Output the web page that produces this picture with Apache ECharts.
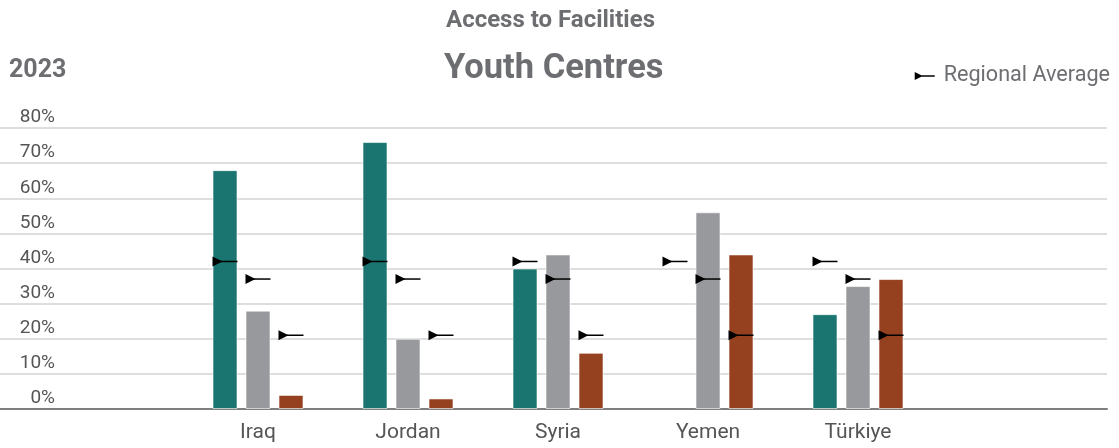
<!DOCTYPE html>
<html>
<head>
<meta charset="utf-8">
<script src="https://cdn.jsdelivr.net/npm/echarts@6/dist/echarts.min.js"></script>
<style>
html,body{margin:0;padding:0;background:#fff;}
#chart{width:1119px;height:448px;}
</style>
</head>
<body>
<div id="chart"></div>
<script>
// ---- data ----
var categories = ['Iraq', 'Jordan', 'Syria', 'Yemen', 'Türkiye'];
var seriesNames = ['Series A', 'Series B', 'Series C'];
var valuesA = [68, 76, 40, null, 27];
var valuesB = [28, 20, 44, 56, 35];
var valuesC = [4, 3, 16, 44, 37];
var regionalAverages = [42, 37, 21];
var yTicks = [0, 10, 20, 30, 40, 50, 60, 70, 80];

// ---- styling ----
var colors = ['#1a7570', '#98999d', '#95411f'];
var BAR_W = 25, BAR_GAP = 8;
var FONT = 'Roboto, "Noto Sans", sans-serif';

var chart = echarts.init(document.getElementById('chart'), null, {renderer: 'canvas'});

var allValues = [valuesA, valuesB, valuesC];
var barSeries = allValues.map(function (vals, s) {
  return {
    type: 'bar',
    name: seriesNames[s],
    data: vals.map(function (v, i) { return [i, v]; }),
    barWidth: BAR_W,
    barGap: (BAR_GAP / BAR_W * 100) + '%',
    itemStyle: { color: colors[s], borderColor: 'rgba(255,255,255,0.6)', borderWidth: 1 },
    emphasis: { disabled: true },
    silent: true
  };
});

var avgData = [];
categories.forEach(function (c, i) {
  regionalAverages.forEach(function (a, s) { avgData.push([i, s, a]); });
});

var avgSeries = {
  type: 'custom',
  name: 'Regional Average',
  data: avgData,
  encode: { x: 0, y: 2 },
  z: 5,
  silent: true,
  renderItem: function (params, api) {
    var ci = api.value(0), s = api.value(1), v = api.value(2);
    var p = api.coord([ci, v]);
    var cx = p[0] + (s - 1) * (BAR_W + BAR_GAP);
    var x0 = cx - BAR_W / 2, y = p[1];
    return {
      type: 'group',
      children: [
        { type: 'line', shape: { x1: x0 + 4, y1: y, x2: x0 + BAR_W, y2: y },
          style: { stroke: '#000', lineWidth: 1.5 } },
        { type: 'polygon', shape: { points: [[x0, y - 5], [x0 + 10, y], [x0, y + 5]] },
          style: { fill: '#000' } }
      ]
    };
  }
};

var option = {
  backgroundColor: '#fff',
  animation: false,
  textStyle: { fontFamily: FONT },
  title: [
    { text: 'Access to Facilities', left: 441, top: 4,
      textStyle: { fontFamily: FONT, fontWeight: 'bold', fontSize: 24, color: '#6d6e71' } },
    { text: 'Youth Centres', left: 439, top: 47,
      textStyle: { fontFamily: FONT, fontWeight: 'bold', fontSize: 34.5, color: '#6d6e71' } },
    { text: '2023', left: 4, top: 53,
      textStyle: { fontFamily: FONT, fontWeight: 'bold', fontSize: 25, color: '#6d6e71' } }
  ],
  legend: {
    data: [{ name: 'Regional Average', icon: 'path://M0,0 L8,4 L0,8 Z M7,3.3 L20,3.3 L20,4.7 L7,4.7 Z M23.9,4 L24,4 L24,4.01 Z' }],
    right: 4, top: 60,
    itemWidth: 24, itemHeight: 8, itemGap: 10,
    textStyle: { fontFamily: FONT, fontSize: 21.6, color: '#6d6e71' },
    itemStyle: { color: '#000' },
    selectedMode: false
  },
  grid: { left: 0, right: 12, top: 128, bottom: 39, containLabel: false },
  xAxis: {
    type: 'value',
    min: -1.72, max: 5.66,
    splitLine: { show: false },
    axisTick: { show: false },
    axisLine: { show: true, onZero: false, lineStyle: { color: '#7f7f7f', width: 2 } },
    axisLabel: {
      customValues: categories.map(function (c, i) { return i; }),
      formatter: function (v) { return categories[Math.round(v)] || ''; },
      fontFamily: FONT, fontSize: 21, color: '#555', margin: 13
    }
  },
  yAxis: {
    type: 'value',
    min: 0, max: 80, interval: 10,
    axisLine: { show: false },
    axisTick: { show: false },
    splitLine: { show: true, lineStyle: { color: '#dedede', width: 2 } },
    axisLabel: {
      inside: true,
      customValues: yTicks,
      formatter: function (v) { return v + '%'; },
      fontFamily: FONT, fontSize: 19, color: '#555',
      align: 'right', margin: 55, verticalAlign: 'bottom', padding: [0, 0, 1, 0]
    }
  },
  series: barSeries.concat([avgSeries])
};

chart.setOption(option);
</script>
</body>
</html>
